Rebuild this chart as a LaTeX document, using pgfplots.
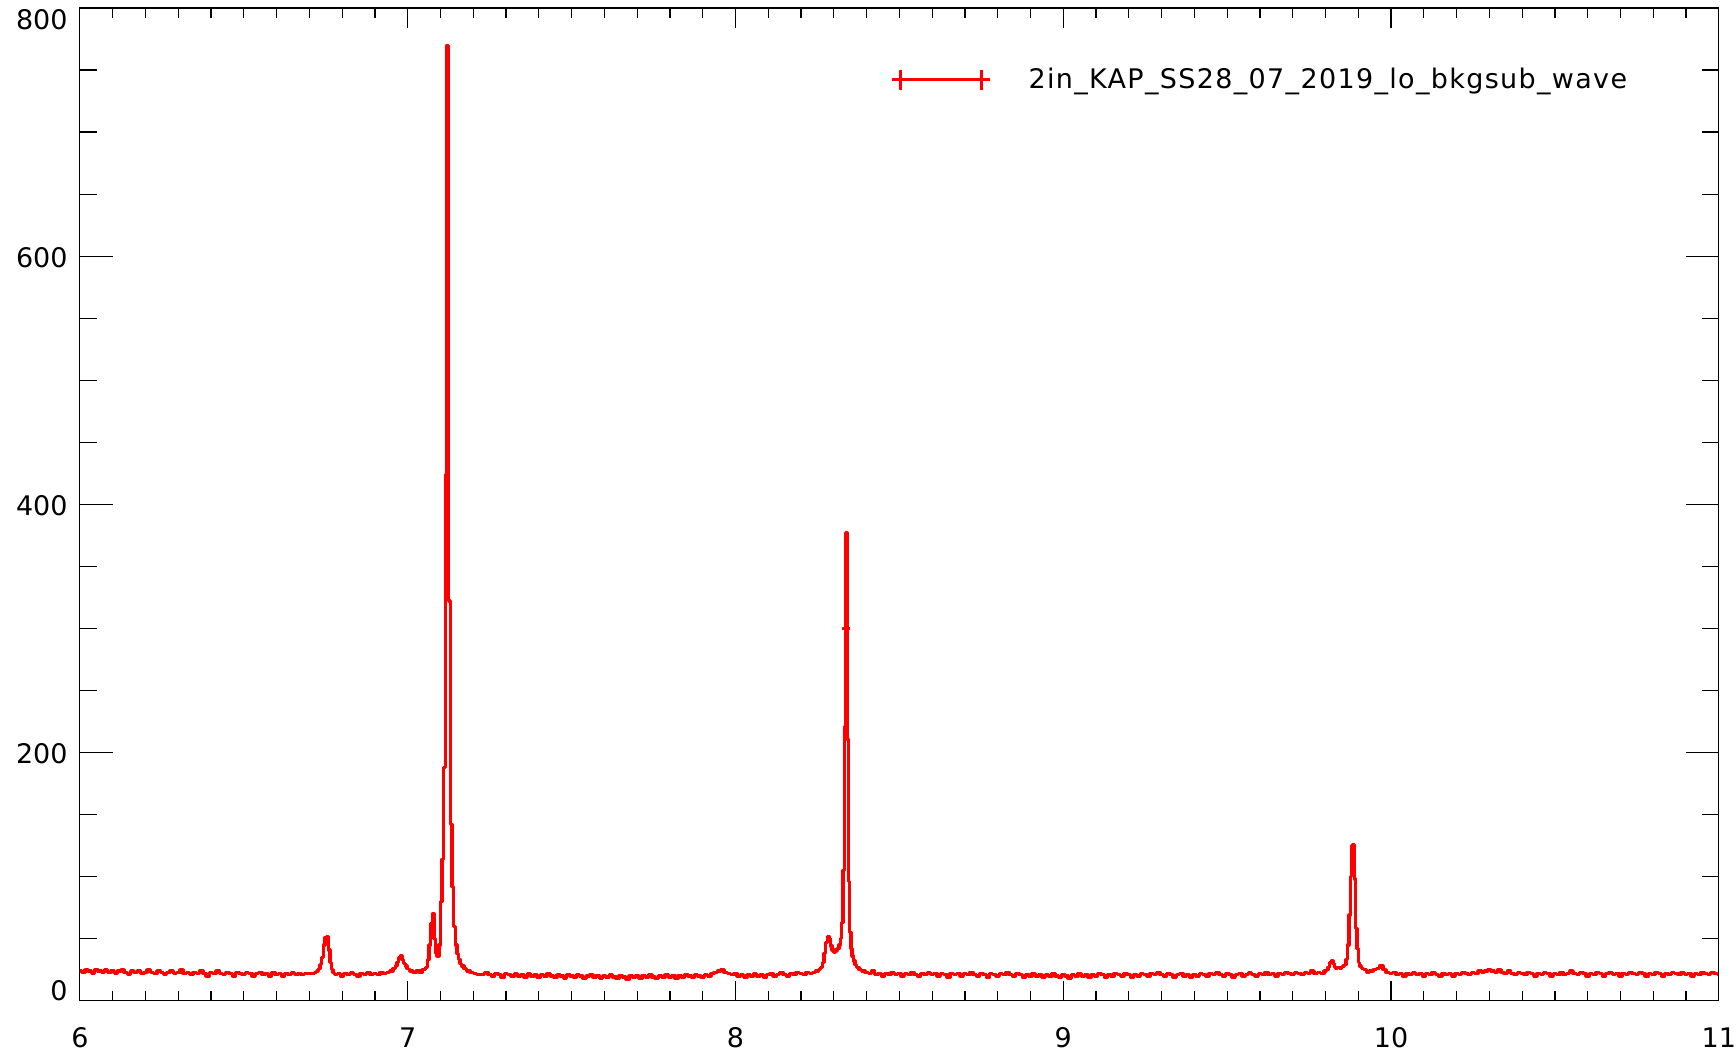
\documentclass[border=0pt]{standalone}
\usepackage{fontspec}
\setmainfont{DejaVu Sans}
\newfontfamily\legfont[LetterSpace=5]{DejaVu Sans}
\usepackage{pgfplots}
\pgfplotsset{compat=1.18}
\begin{document}
\begin{tikzpicture}
\begin{axis}[name=a, at={(0,0)}, anchor=south west,
  scale only axis, width=820.5pt, height=497pt,
  xmin=6, xmax=11, ymin=0, ymax=800,
  axis line style={black, line width=0.6pt},
  tick align=inside, tick pos=both,
  xtick={6,7,8,9,10,11}, xticklabels={6,7,8,9,10,11},
  minor x tick num=9, ytick=\empty,
  major tick length=10pt, minor tick length=5pt,
  tick style={black, line width=0.6pt},
  xticklabel style={font=\fontsize{13.5}{16}\selectfont, anchor=north, inner sep=0pt, yshift=-13.3pt},
  legend style={at={(0.4942,0.9279)}, anchor=west, draw=none, fill=none, inner sep=0pt,
    column sep=18.5pt, font=\legfont\fontsize{13.5}{16}\selectfont, nodes={inner sep=0pt}},
  legend cell align=left,
  legend image code/.code={\draw[red, line width=1.7pt] (0pt,0pt) -- (49pt,0pt);
    \draw[red, line width=1.5pt] (4.5pt,-5pt) -- (4.5pt,5pt) (45pt,-5pt) -- (45pt,5pt);}
]
\addplot[red, line width=1.7pt, const plot mark mid, line join=round] coordinates {
(6.00,24)(6.01,23)(6.02,25)(6.03,24)(6.04,22)(6.05,25)(6.06,24)(6.07,23)(6.08,25)(6.09,23)
(6.10,24)(6.11,22)(6.12,24)(6.13,25)(6.14,23)(6.15,21)(6.16,24)(6.17,23)(6.18,24)(6.19,22)
(6.20,23)(6.21,25)(6.22,23)(6.23,22)(6.24,24)(6.25,23)(6.26,21)(6.27,23)(6.28,24)(6.29,22)
(6.30,23)(6.31,25)(6.32,22)(6.33,23)(6.34,21)(6.35,23)(6.36,22)(6.37,24)(6.38,22)(6.39,20)
(6.40,23)(6.41,22)(6.42,24)(6.43,22)(6.44,21)(6.45,23)(6.46,22)(6.47,20)(6.48,23)(6.49,22)
(6.50,21)(6.51,23)(6.52,22)(6.53,20)(6.54,22)(6.55,23)(6.56,21)(6.57,22)(6.58,20)(6.59,23)
(6.60,21)(6.61,22)(6.62,20)(6.63,22)(6.64,21)(6.65,23)(6.66,21)(6.67,22)(6.68,21)(6.69,22)
(6.70,22)(6.71,22)(6.72,23)(6.725,24)(6.73,26)(6.735,29)(6.74,35)(6.745,45)(6.75,51)(6.755,52)
(6.76,41)(6.765,31)(6.77,25)(6.775,23)(6.78,21)(6.79,22)(6.80,20)
(6.81,22)(6.82,21)(6.83,23)(6.84,21)(6.85,20)(6.86,22)(6.87,21)(6.88,23)(6.89,21)(6.90,22)
(6.91,21)(6.92,23)(6.93,22)(6.94,23)(6.95,24)(6.96,26)(6.965,28)(6.97,31)(6.975,35)(6.98,36)
(6.985,33)(6.99,30)(6.995,28)(7.00,26)(7.005,25)(7.01,24)(7.02,23)(7.03,24)(7.04,23)
(7.0475,25)(7.0525,25)(7.0575,27)(7.0625,33)(7.0675,45)(7.0725,62)(7.0775,70)(7.0825,50)
(7.0875,38)(7.0925,36)(7.0975,45)(7.1025,80)(7.1075,114)(7.1125,188)(7.1175,424)(7.1225,770)
(7.1275,322)(7.1325,142)(7.1375,92)(7.1425,60)(7.1475,45)(7.1525,38)(7.1575,33)(7.1625,30)
(7.1675,28)(7.175,26)(7.185,24)(7.195,23)(7.205,22)(7.215,21)
(7.23,21)(7.24,23)(7.25,21)(7.26,20)(7.27,22)(7.28,21)(7.29,19)
(7.30,22)(7.31,21)(7.32,20)(7.33,22)(7.34,20)(7.35,21)(7.36,19)(7.37,22)(7.38,20)(7.39,21)
(7.40,19)(7.41,21)(7.42,20)(7.43,22)(7.44,20)(7.45,19)(7.46,21)(7.47,20)(7.48,18)(7.49,21)
(7.50,20)(7.51,19)(7.52,21)(7.53,20)(7.54,18)(7.55,20)(7.56,21)(7.57,19)(7.58,20)(7.59,18)
(7.60,20)(7.61,19)(7.62,21)(7.63,19)(7.64,18)(7.65,20)(7.66,19)(7.67,17)(7.68,20)(7.69,19)
(7.70,20)(7.71,18)(7.72,20)(7.73,19)(7.74,21)(7.75,19)(7.76,18)(7.77,20)(7.78,19)(7.79,21)
(7.80,19)(7.81,20)(7.82,18)(7.83,20)(7.84,19)(7.85,21)(7.86,20)(7.87,19)(7.88,21)(7.89,20)
(7.90,19)(7.91,21)(7.92,20)(7.93,22)(7.94,23)(7.95,24)(7.96,25)(7.97,23)(7.98,22)(7.99,21)
(8.00,22)(8.01,20)(8.02,21)(8.03,19)(8.04,21)(8.05,20)(8.06,22)(8.07,20)(8.08,21)(8.09,19)
(8.10,21)(8.11,22)(8.12,20)(8.13,21)(8.14,23)(8.15,21)(8.16,20)(8.17,22)(8.18,21)(8.19,23)
(8.20,22)(8.21,21)(8.22,23)(8.23,22)(8.24,23)
(8.25,24)(8.2575,25)(8.2625,27)(8.2675,31)(8.2725,38)(8.2775,47)(8.2825,52)(8.2875,50)
(8.2925,44)(8.2975,41)(8.3025,39)(8.3075,40)(8.3125,42)(8.318,45)(8.322,50)(8.326,63)
(8.330,105)(8.334,221)(8.338,377)(8.342,211)(8.346,96)(8.350,55)(8.354,42)(8.358,36)
(8.362,32)(8.367,29)(8.373,27)(8.38,25)(8.39,24)
(8.40,23)(8.41,22)(8.42,24)(8.43,21)(8.44,22)(8.45,20)(8.46,22)(8.47,21)(8.48,23)(8.49,21)
(8.50,22)(8.51,20)(8.52,22)(8.53,21)(8.54,23)(8.55,21)(8.56,20)(8.57,22)(8.58,21)(8.59,23)
(8.60,21)(8.61,22)(8.62,20)(8.63,22)(8.64,21)(8.65,19)(8.66,22)(8.67,21)(8.68,22)(8.69,20)
(8.70,22)(8.71,21)(8.72,23)(8.73,21)(8.74,20)(8.75,22)(8.76,21)(8.77,19)(8.78,22)(8.79,21)
(8.80,20)(8.81,22)(8.82,21)(8.83,23)(8.84,21)(8.85,20)(8.86,22)(8.87,21)(8.88,19)(8.89,21)
(8.90,20)(8.91,22)(8.92,20)(8.93,21)(8.94,19)(8.95,21)(8.96,20)(8.97,22)(8.98,20)(8.99,19)
(9.00,21)(9.01,20)(9.02,18)(9.03,21)(9.04,20)(9.05,22)(9.06,20)(9.07,21)(9.08,19)(9.09,21)
(9.10,20)(9.11,22)(9.12,21)(9.13,19)(9.14,21)(9.15,20)(9.16,22)(9.17,21)(9.18,20)(9.19,22)
(9.20,21)(9.21,19)(9.22,21)(9.23,20)(9.24,22)(9.25,21)(9.26,20)(9.27,22)(9.28,21)(9.29,23)
(9.30,21)(9.31,20)(9.32,22)(9.33,21)(9.34,19)(9.35,21)(9.36,22)(9.37,20)(9.38,21)(9.39,19)
(9.40,21)(9.41,20)(9.42,22)(9.43,21)(9.44,20)(9.45,22)(9.46,21)(9.47,23)(9.48,21)(9.49,20)
(9.50,22)(9.51,21)(9.52,19)(9.53,21)(9.54,22)(9.55,20)(9.56,21)(9.57,23)(9.58,21)(9.59,20)
(9.60,22)(9.61,21)(9.62,23)(9.63,21)(9.64,22)(9.65,20)(9.66,22)(9.67,21)(9.68,23)(9.69,22)
(9.70,21)(9.71,23)(9.72,22)(9.73,21)(9.74,23)(9.75,22)(9.76,24)(9.77,22)(9.78,23)(9.79,22)
(9.80,24)(9.805,25)(9.81,27)(9.815,31)(9.82,32)(9.825,30)(9.83,27)(9.835,26)(9.84,27)
(9.845,26)(9.85,27)(9.855,28)(9.86,29)(9.866,33)(9.870,45)(9.874,69)(9.878,100)(9.882,125)
(9.886,126)(9.890,98)(9.894,58)(9.898,42)(9.902,31)(9.906,28)(9.912,26)(9.92,25)(9.93,23)
(9.94,24)(9.95,25)(9.96,26)(9.97,28)(9.98,25)(9.99,23)
(10.00,22)(10.01,23)(10.02,21)(10.03,22)(10.04,20)(10.05,22)(10.06,21)(10.07,23)(10.08,21)(10.09,22)
(10.10,20)(10.11,22)(10.12,21)(10.13,23)(10.14,21)(10.15,20)(10.16,22)(10.17,21)(10.18,22)(10.19,20)
(10.20,22)(10.21,21)(10.22,23)(10.23,22)(10.24,21)(10.25,23)(10.26,22)(10.27,24)(10.28,23)(10.29,24)
(10.30,25)(10.31,24)(10.32,23)(10.33,25)(10.34,23)(10.35,22)(10.36,24)(10.37,22)(10.38,21)(10.39,23)
(10.40,22)(10.41,21)(10.42,23)(10.43,22)(10.44,20)(10.45,22)(10.46,21)(10.47,23)(10.48,22)(10.49,20)
(10.50,22)(10.51,21)(10.52,23)(10.53,21)(10.54,22)(10.55,24)(10.56,22)(10.57,21)(10.58,23)(10.59,22)
(10.60,20)(10.61,22)(10.62,21)(10.63,23)(10.64,22)(10.65,20)(10.66,22)(10.67,23)(10.68,21)(10.69,22)
(10.70,20)(10.71,22)(10.72,21)(10.73,23)(10.74,22)(10.75,21)(10.76,23)(10.77,22)(10.78,20)(10.79,22)
(10.80,21)(10.81,23)(10.82,22)(10.83,20)(10.84,22)(10.85,21)(10.86,23)(10.87,22)(10.88,21)(10.89,23)
(10.90,21)(10.91,22)(10.92,20)(10.93,22)(10.94,21)(10.95,23)(10.96,22)(10.97,21)(10.98,23)(10.99,22)
(11.00,21)
};
\addlegendentry{2in\_KAP\_SS28\_07\_2019\_lo\_bkgsub\_wave}
\addplot[red, only marks, mark=+, mark size=2pt, mark options={line width=1.2pt}, forget plot] coordinates {(8.338,300)};
\end{axis}
\begin{axis}[at={(0,0)}, anchor=south west,
  scale only axis, width=820.5pt, height=497pt,
  xmin=6, xmax=11, ymin=0, ymax=800,
  axis line style={black, line width=0.6pt},
  tick align=inside, tick pos=both,
  xtick=\empty,
  ytick={0,200,400,600,800},
  yticklabels={{\smash{0}},{\smash{\raisebox{-5.5pt}{200}}},{\smash{\raisebox{-5.5pt}{400}}},{\smash{\raisebox{-5.5pt}{600}}},{\smash{\raisebox{-10.8pt}{800}}}},
  minor y tick num=3,
  major tick length=16.5pt, minor tick length=8.5pt,
  tick style={black, line width=0.6pt},
  yticklabel style={font=\fontsize{13.5}{16}\selectfont, anchor=east, inner sep=0pt, xshift=-6pt}
]
\end{axis}
\path ([xshift=-40pt,yshift=-25.5pt]a.south west) rectangle ([xshift=7.5pt,yshift=4pt]a.north east);
\end{tikzpicture}
\end{document}
